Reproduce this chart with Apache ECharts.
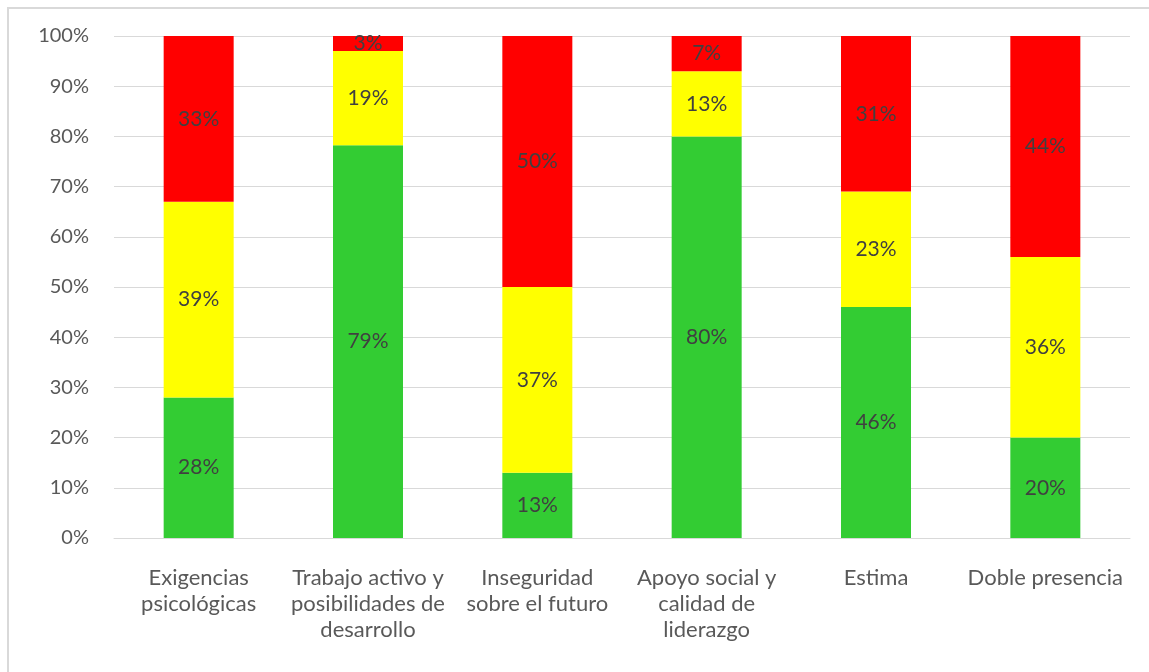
<!DOCTYPE html>
<html>
<head>
<meta charset="utf-8">
<script src="https://cdn.jsdelivr.net/npm/echarts@6/dist/echarts.min.js"></script>
<style>
  html, body { margin: 0; padding: 0; background: #fff; }
  #chart { width: 1149px; height: 672px; }
</style>
</head>
<body>
<div id="chart"></div>
<script>
var categories = ['Exigencias\npsicológicas', 'Trabajo activo y\nposibilidades de\ndesarrollo', 'Inseguridad\nsobre el futuro', 'Apoyo social y\ncalidad de\nliderazgo', 'Estima', 'Doble presencia'];
var verde = [28, 79, 13, 80, 46, 20];
var amarillo = [39, 19, 37, 13, 23, 36];
var rojo = [33, 3, 50, 7, 31, 44];
var yTicks = [0, 10, 20, 30, 40, 50, 60, 70, 80, 90, 100];

var chart = echarts.init(document.getElementById('chart'));
var fontFam = 'Lato, "Open Sans", sans-serif';

// 100% stacked: each column is scaled to its own total
function share(arr, i) {
  var total = verde[i] + amarillo[i] + rojo[i];
  return arr[i] / total * 100;
}

function makeSeries(name, arr, color) {
  return {
    name: name,
    type: 'bar',
    stack: 'total',
    barWidth: 70,
    data: arr.map(function (v, i) { return share(arr, i); }),
    itemStyle: { color: color },
    label: {
      show: true,
      position: 'inside',
      color: '#404040',
      fontFamily: fontFam,
      fontSize: 21,
      formatter: function (p) { return arr[p.dataIndex] + '%'; }
    }
  };
}

var option = {
  animation: false,
  grid: {
    left: 114,
    right: 19,
    top: 36,
    bottom: 134
  },
  xAxis: {
    type: 'category',
    data: categories,
    axisLine: { lineStyle: { color: '#d9d9d9', width: 1 } },
    axisTick: { show: false },
    axisLabel: {
      interval: 0,
      margin: 27,
      color: '#595959',
      fontFamily: fontFam,
      fontSize: 22,
      lineHeight: 26
    }
  },
  yAxis: {
    type: 'value',
    min: yTicks[0],
    max: yTicks[yTicks.length - 1],
    interval: 10,
    axisLine: { show: false },
    axisTick: { show: false },
    splitLine: { lineStyle: { color: '#d9d9d9', width: 1 } },
    axisLabel: {
      margin: 25,
      color: '#595959',
      fontFamily: fontFam,
      fontSize: 20,
      formatter: '{value}%'
    }
  },
  graphic: [{
    type: 'rect',
    shape: { x: 8, y: 8, width: 1170, height: 700 },
    style: { fill: null, stroke: '#d9d9d9', lineWidth: 2 },
    silent: true
  }],
  series: [
    makeSeries('Verde', verde, '#33cc33'),
    makeSeries('Amarillo', amarillo, '#ffff00'),
    makeSeries('Rojo', rojo, '#ff0000')
  ]
};

chart.setOption(option);
</script>
</body>
</html>
